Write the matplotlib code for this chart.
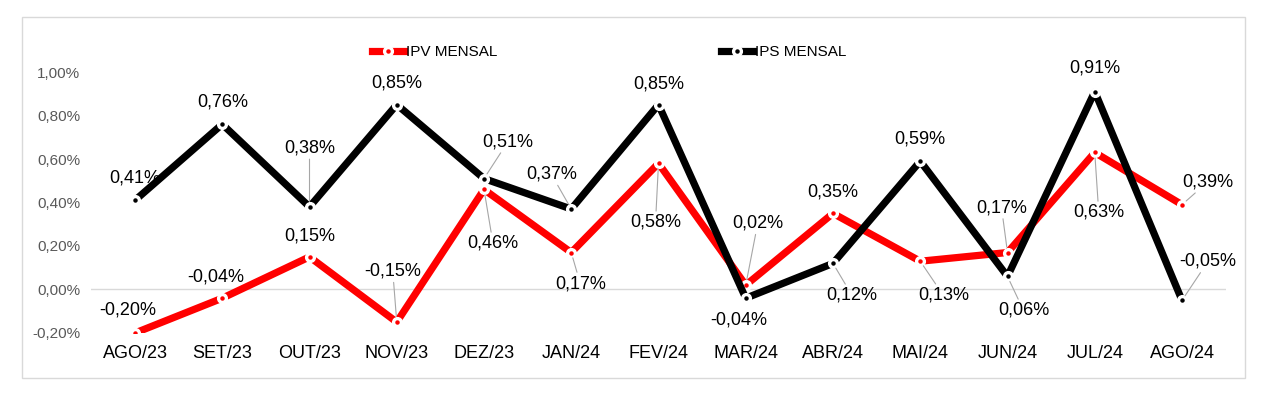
import numpy as np
import matplotlib.pyplot as plt
from matplotlib.patches import Rectangle
from matplotlib.lines import Line2D

plt.rcParams['font.family'] = ['Liberation Sans', 'DejaVu Sans']

# data
meses = ['AGO/23', 'SET/23', 'OUT/23', 'NOV/23', 'DEZ/23', 'JAN/24', 'FEV/24',
         'MAR/24', 'ABR/24', 'MAI/24', 'JUN/24', 'JUL/24', 'AGO/24']
ipv = [-0.20, -0.04, 0.15, -0.15, 0.46, 0.17, 0.58, 0.02, 0.35, 0.13, 0.17, 0.63, 0.39]
ips = [0.41, 0.76, 0.38, 0.85, 0.51, 0.37, 0.85, -0.04, 0.12, 0.59, 0.06, 0.91, -0.05]

# label offsets in pixels (dx, dy up)
ipv_off = [(-7, 23), (-7, 21), (0, 21), (-4, 51), (9, -54), (9, -31), (-3, -59),
           (12, 62), (0, 21), (23, -34), (-6, 45), (4, -60), (26, 23)]
ips_off = [(0, 22), (0, 22), (0, 59), (0, 22), (24, 37), (-20, 35), (0, 21),
           (-7, -22), (19, -32), (0, 22), (16, -34), (0, 24), (26, 39)]

fig = plt.figure(figsize=(12.71, 3.95), dpi=100)
ax = fig.add_axes([0.0719, 0.157, 0.8924, 0.6607])

x = np.arange(len(meses))

def draw(vals, color, z):
    ax.plot(x, vals, color=color, lw=5.2, zorder=z, solid_capstyle='butt')
    ax.plot(x, vals, 'o', ms=7, mfc='white', mec='white', zorder=z + 0.1)
    ax.plot(x, vals, 'o', ms=2.2, color=color, zorder=z + 0.2)

draw(ipv, '#ff0000', 3)
draw(ips, '#000000', 4)

def labels(vals, offs):
    for xi, v, (dx, dy) in zip(x, vals, offs):
        txt = f'{v:.2f}%'.replace('.', ',')
        far = np.hypot(dx, dy) > 28
        ax.annotate(txt, (xi, v), xytext=(dx * 0.72, dy * 0.72), textcoords='offset points',
                    ha='center', va='center', fontsize=13, zorder=6,
                    arrowprops=dict(arrowstyle='-', color='#a6a6a6', lw=0.8,
                                    shrinkA=0, shrinkB=4) if far else None)

labels(ipv, ipv_off)
labels(ips, ips_off)

ax.set_xlim(-0.5, len(meses) - 0.5)
ax.set_ylim(-0.2, 1.0)
ax.axhline(0, color='#d9d9d9', lw=1, zorder=1)
yt = np.arange(-0.2, 1.01, 0.2)
ax.set_yticks(yt)
ax.set_yticklabels([f'{t:.2f}%'.replace('.', ',') for t in yt], color='#595959', fontsize=11)
ax.set_xticks(x)
ax.set_xticklabels(meses, fontsize=13)
ax.tick_params(length=0)
ax.tick_params(axis='y', pad=8)
ax.tick_params(axis='x', pad=9)
for s in ax.spines.values():
    s.set_visible(False)

# legend handles
h1 = (Line2D([], [], color='#ff0000', lw=5.2),
      Line2D([], [], ls='', marker='o', ms=7, mfc='white', mec='white'),
      Line2D([], [], ls='', marker='o', ms=2.2, color='#ff0000'))
h2 = (Line2D([], [], color='black', lw=5.2),
      Line2D([], [], ls='', marker='o', ms=7, mfc='white', mec='white'),
      Line2D([], [], ls='', marker='o', ms=2.2, color='black'))
fig.legend([h1, h2], ['IPV MENSAL', 'IPS MENSAL'], ncol=2, frameon=False,
           loc='center left', bbox_to_anchor=(372 / 1271, 1 - 52 / 395),
           fontsize=11, handlelength=2.1, handletextpad=0.15, columnspacing=14.6,
           borderaxespad=0, borderpad=0)

fig.patches.append(Rectangle((22 / 1271, 1 - 378 / 395), 1223 / 1271, 361 / 395,
                             transform=fig.transFigure, fill=False,
                             edgecolor='#d9d9d9', lw=1))

fig.savefig('out.png', dpi=100)
